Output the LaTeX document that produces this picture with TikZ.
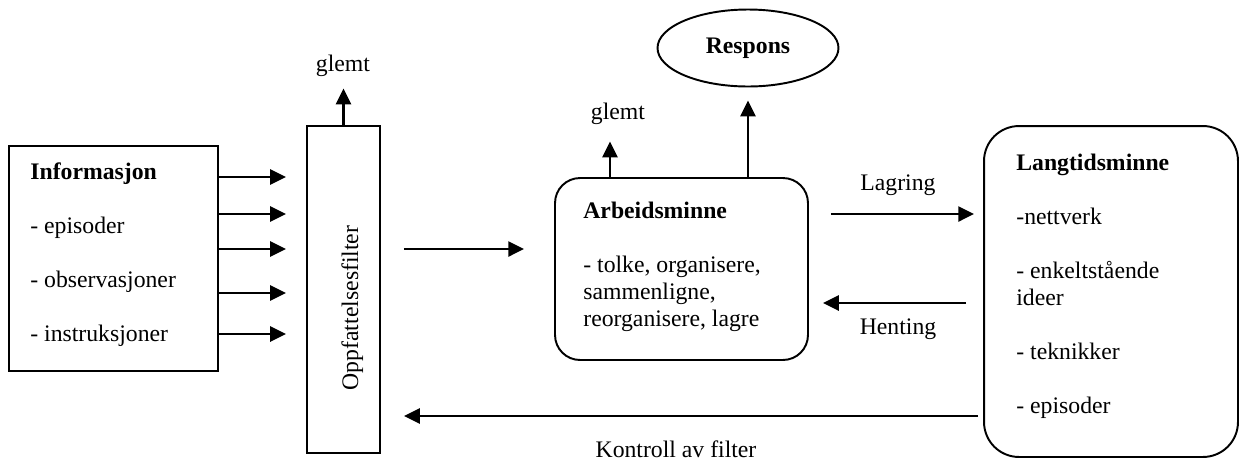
\documentclass[tikz,border=0pt]{standalone}
\usepackage{fontspec}
\setmainfont{Liberation Serif}
\usetikzlibrary{positioning,arrows.meta,shapes.geometric}

\begin{document}
\begin{tikzpicture}
		[x=0.02cm,y=-0.02cm,
		 font=\fontsize{13.5}{15.4}\selectfont,
		 box/.style={draw,line width=1.1pt,inner sep=0pt},
		 txt/.style={inner sep=0pt,align=left,anchor=north west},
		 arr/.style={-{Triangle[length=9pt,width=8.5pt]},line width=1.6pt}]
		\useasboundingbox (0,0) rectangle (1241,464);

		% draw the boxes
		\node[box,minimum width=4.18cm,minimum height=4.5cm] (info) at (113.5,258.5) {};
		\node[box,minimum width=1.46cm,minimum height=6.54cm] (filter) at (343.5,289.5) {};
		\node[box,rounded corners=0.5cm,minimum width=5.06cm,minimum height=3.64cm] (arbeid) at (681.5,269) {};
		\node[box,rounded corners=0.7cm,minimum width=5.08cm,minimum height=6.62cm] (lang) at (1111,291.5) {};
		\node[box,ellipse,minimum width=3.62cm,minimum height=1.54cm] (respons) at (748,48) {\textbf{Respons}};

		% the texts inside the boxes
		\node[txt] (infotext) at (30,162.5) {\textbf{Informasjon}\\[15.3pt]- episoder\\[15.3pt]- observasjoner\\[15.3pt]- instruksjoner};
		\node[rotate=90,anchor=base,inner sep=0pt] (filtertext) at (358,308) {Oppfattelsesfilter};
		\node[txt] (arbeidtext) at (583,201.5) {\textbf{Arbeidsminne}\\[15.3pt]- tolke, organisere,\\sammenligne,\\reorganisere, lagre};
		\node[txt] (langtext) at (1016,153.5) {\textbf{Langtidsminne}\\[15.3pt]-nettverk\\[15.3pt]- enkeltstående\\ideer\\[15.3pt]- teknikker\\[15.3pt]- episoder};

		% labels
		\node[anchor=base,inner sep=0pt] (glemtA) at (343,71) {glemt};
		\node[anchor=base,inner sep=0pt] (glemtB) at (618,119) {glemt};
		\node[anchor=base,inner sep=0pt] (lagring) at (898,190) {Lagring};
		\node[anchor=base,inner sep=0pt] (henting) at (898,334) {Henting};
		\node[anchor=base,inner sep=0pt] (kontroll) at (676,457) {Kontroll av filter};

		% draw the arrows
		\foreach \y in {177,214,249,293,334}
			\draw [arr,shorten >=0.4cm] (info.east |- 0,\y) -- (filter.west |- 0,\y);
		\draw [arr,shorten <=0.46cm,shorten >=0.6cm] (filter.east |- 0,249) -- (arbeid.west |- 0,249);
		\draw [arr,shorten <=0.44cm,shorten >=0.18cm] (arbeid.east |- 0,214) -- (lang.west |- 0,214);
		\draw [arr,shorten <=0.34cm,shorten >=0.28cm] (lang.west |- 0,303) -- (arbeid.east |- 0,303);
		\draw [arr,shorten <=0.1cm,shorten >=0.46cm] (lang.west |- 0,416) -- (filter.east |- 0,416);
		\draw [arr,shorten >=0.24cm] (filter.north) -- (filter.north |- glemtA.south);
		\draw [arr,shorten >=0.34cm] (arbeid.north -| 610,0) -- (glemtB.south -| 610,0);
		\draw [arr,shorten >=0.26cm] (arbeid.north -| respons.south) -- (respons.south);
	\end{tikzpicture}
\end{document}
